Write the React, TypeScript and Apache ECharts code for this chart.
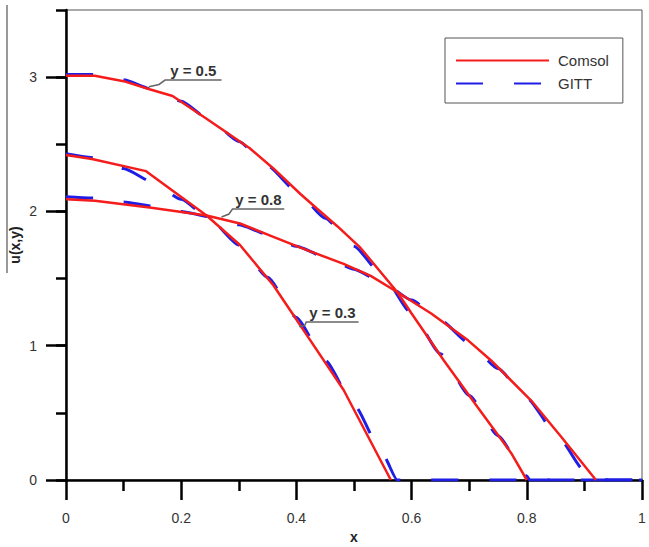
import { useEffect, useRef } from 'react';
import * as echarts from 'echarts';

// ---- data ----
const xTickValues = [0, 0.2, 0.4, 0.6, 0.8, 1];
const yTickValues = [0, 1, 2, 3];

const comsolY05 = [[0, 3.01], [0.05, 3.01], [0.1, 2.97], [0.145, 2.91], [0.185, 2.86], [0.244, 2.69], [0.319, 2.47], [0.36, 2.32], [0.407, 2.13], [0.436, 2.02], [0.471, 1.89], [0.511, 1.73], [0.575, 1.4], [0.6, 1.24], [0.656, 0.89], [0.715, 0.54], [0.773, 0.2], [0.8, 0]];
const comsolY03 = [[0, 2.42], [0.045, 2.39], [0.139, 2.3], [0.244, 1.97], [0.302, 1.75], [0.36, 1.45], [0.407, 1.15], [0.482, 0.67], [0.564, 0]];
const comsolY08 = [[0, 2.09], [0.05, 2.08], [0.145, 2.03], [0.244, 1.97], [0.302, 1.91], [0.36, 1.81], [0.407, 1.73], [0.482, 1.61], [0.529, 1.52], [0.575, 1.4], [0.634, 1.24], [0.698, 1.04], [0.738, 0.89], [0.808, 0.59], [0.86, 0.32], [0.92, 0]];

const gittY05 = [[0, 3.02], [0.05, 3.02], [0.1, 2.98], [0.15, 2.91], [0.2, 2.82], [0.25, 2.68], [0.3, 2.52], [0.35, 2.34], [0.4, 2.15], [0.45, 1.95], [0.5, 1.74], [0.55, 1.52], [0.6, 1.24], [0.65, 0.94], [0.7, 0.63], [0.75, 0.33], [0.8, 0.03], [0.805, 0], [1, 0]];
const gittY03 = [[0, 2.43], [0.05, 2.4], [0.1, 2.32], [0.15, 2.22], [0.2, 2.09], [0.25, 1.94], [0.3, 1.75], [0.35, 1.51], [0.4, 1.21], [0.45, 0.89], [0.5, 0.56], [0.55, 0.19], [0.575, 0], [1, 0]];
const gittY08 = [[0, 2.11], [0.05, 2.1], [0.1, 2.07], [0.15, 2.04], [0.2, 2.0], [0.25, 1.96], [0.3, 1.9], [0.35, 1.83], [0.4, 1.74], [0.45, 1.66], [0.5, 1.57], [0.55, 1.47], [0.6, 1.34], [0.65, 1.19], [0.7, 1.02], [0.75, 0.83], [0.8, 0.61], [0.85, 0.35], [0.9, 0.07], [0.912, 0], [1, 0]];

const annLabels = ['y = 0.5', 'y = 0.8', 'y = 0.3'];
const annAnchor = [[0.144, 2.928], [0.27, 1.958], [0.405, 1.141]];
const annCorner = [[0.172, 2.978], [0.289, 2.018], [0.417, 1.176]];
const annEnd = [[0.27, 2.978], [0.379, 2.018], [0.508, 1.176]];

const RED = '#f51c1c';
const BLUE = '#1e1ee6';
const FONT = 'Arial, "Liberation Sans", Helvetica, sans-serif';

export default function App() {
  const ref = useRef<HTMLDivElement>(null);
  useEffect(() => {
    if (!ref.current) return;
    const chart = echarts.init(ref.current, undefined, { renderer: 'svg' });
    const axisLine = { show: true, onZero: false, lineStyle: { color: '#000', width: 2.5 } };
    const redSeries = (data: number[][]) => ({
      type: 'line', name: 'Comsol', data, showSymbol: false, symbol: 'none',
      lineStyle: { color: RED, width: 2.5 }, itemStyle: { color: RED, opacity: 0 }, z: 4,
    });
    const blueSeries = (data: number[][]) => ({
      type: 'line', name: 'GITT', data, showSymbol: false, symbol: 'none', smooth: 0.2, smoothMonotone: 'x',
      lineStyle: { color: BLUE, width: 3, type: [27, 31] }, itemStyle: { color: BLUE, opacity: 0 }, z: 3,
    });
    chart.setOption({
      animation: false,
      grid: { left: 66, right: 7, top: 10, bottom: 67, containLabel: false, outerBoundsMode: 'none', show: true, borderColor: '#555', borderWidth: 1, backgroundColor: 'transparent' },
      xAxis: {
        type: 'value', min: 0, max: 1, interval: 0.2,
        name: 'x', nameLocation: 'middle', nameGap: 49,
        nameTextStyle: { fontFamily: FONT, fontSize: 14, fontWeight: 'bold', color: '#222' },
        axisLine,
        axisTick: { show: true, inside: false, length: 20, lineStyle: { color: '#000', width: 2.5 } },
        minorTick: { show: true, splitNumber: 2, length: 11, lineStyle: { color: '#000', width: 2.5 } },
        axisLabel: { margin: 31, fontFamily: FONT, fontSize: 14, color: '#333', formatter: (v: number) => (xTickValues.includes(Math.round(v * 10) / 10) ? String(Math.round(v * 10) / 10) : '') },
        splitLine: { show: false }, minorSplitLine: { show: false },
      },
      yAxis: [
        {
          type: 'value', min: 0, max: 3.5, interval: 0.5, position: 'left', offset: 0,
          name: 'u(x,y)', nameLocation: 'middle', nameGap: 44, nameRotate: 90,
          nameTextStyle: { fontFamily: FONT, fontSize: 14, fontWeight: 'bold', color: '#222' },
          axisLine,
          axisTick: { show: true, inside: false, length: 10, lineStyle: { color: '#000', width: 2.5 } },
          axisLabel: { show: false },
          splitLine: { show: false },
        },
        {
          type: 'value', min: 0, max: 3.5, interval: 0.5, position: 'left', offset: 0,
          axisLine: { show: false },
          axisTick: { show: true, inside: false, length: 20, customValues: yTickValues, lineStyle: { color: '#000', width: 2.5 } },
          axisLabel: { show: true, customValues: yTickValues, margin: 29, fontFamily: FONT, fontSize: 14, color: '#333' },
          splitLine: { show: false },
        },
      ],
      legend: {
        data: ['Comsol', 'GITT'], orient: 'vertical', left: 445, top: 38,
        padding: [15, 14, 12, 10], itemGap: 8, itemWidth: 93, itemHeight: 14,
        borderColor: '#555', borderWidth: 1, backgroundColor: '#fff',
        itemStyle: { opacity: 0 },
        textStyle: { fontFamily: FONT, fontSize: 15, color: '#333', padding: [0, 0, 0, 4] },
      },
      series: [
        blueSeries(gittY05), blueSeries(gittY03), blueSeries(gittY08),
        redSeries(comsolY05), redSeries(comsolY03), redSeries(comsolY08),
      ],
    });

    const px = (p: number[]) => chart.convertToPixel({ gridIndex: 0 }, p) as number[];
    const elements: any[] = [
      { type: 'line', shape: { x1: 7, y1: 5, x2: 7, y2: 273 }, style: { stroke: '#777', lineWidth: 1.5 } },
    ];
    annLabels.forEach((label, i) => {
      const a = px(annAnchor[i]);
      const c = px(annCorner[i]);
      const e = px(annEnd[i]);
      elements.push({ type: 'polyline', shape: { points: [a, [(a[0] + c[0]) / 2 + 2, (a[1] + c[1]) / 2 + 1], c, e] }, style: { stroke: '#666', lineWidth: 1.5, fill: null }, z: 10 });
      elements.push({
        type: 'text', x: (c[0] + e[0]) / 2, y: c[1] - 2, z: 10,
        style: { text: label, font: `bold 15px ${FONT}`, fill: '#333', align: 'center', verticalAlign: 'bottom', textAlign: 'center', textVerticalAlign: 'bottom' },
      });
    });
    chart.setOption({ graphic: { elements } });
    return () => chart.dispose();
  }, []);
  return <div ref={ref} style={{ position: 'fixed', left: 0, top: 0, width: 649, height: 547, background: '#fff' }} />;
}
